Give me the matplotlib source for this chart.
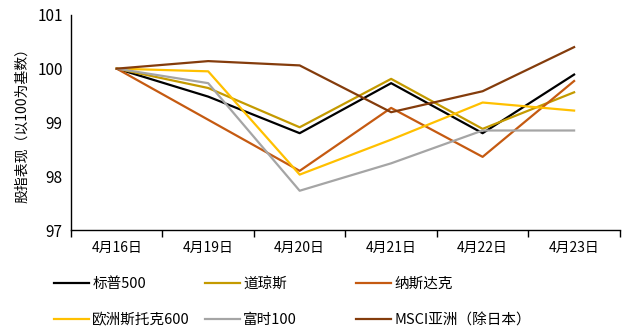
import matplotlib
matplotlib.use("Agg")
import matplotlib.pyplot as plt

plt.rcParams['font.family'] = ['Noto Sans CJK SC', 'DejaVu Sans']

# data
dates = ['4月16日', '4月19日', '4月20日', '4月21日', '4月22日', '4月23日']
sp500 = [100.0, 99.48, 98.80, 99.73, 98.80, 99.89]
dow = [100.0, 99.64, 98.91, 99.81, 98.88, 99.56]
nasdaq = [100.0, 99.05, 98.10, 99.27, 98.36, 99.77]
stoxx600 = [100.0, 99.95, 98.03, 98.68, 99.37, 99.22]
ftse100 = [100.0, 99.73, 97.73, 98.24, 98.85, 98.85]
msci_asia = [100.0, 100.14, 100.06, 99.19, 99.58, 100.40]

series = [
    ('标普500', sp500, '#000000'),
    ('道琼斯', dow, '#C49A00'),
    ('纳斯达克', nasdaq, '#C55A11'),
    ('欧洲斯托克600', stoxx600, '#FFC000'),
    ('富时100', ftse100, '#A5A5A5'),
    ('MSCI亚洲（除日本）', msci_asia, '#843C0C'),
]

fig = plt.figure(figsize=(6.28, 3.3), dpi=100)
ax = fig.add_axes([0.113, 0.303, 0.874, 0.652])

x = list(range(len(dates)))
lines = []
for name, vals, col in series:
    ln, = ax.plot(x, vals, color=col, lw=1.6, label=name)
    lines.append(ln)

ax.set_xlim(-0.5, len(dates) - 0.5)
ax.set_ylim(97, 101)
ax.set_yticks([97, 98, 99, 100, 101])
ax.tick_params(axis='y', length=0, labelsize=11, pad=6)

ax.set_xticks(x)
ax.set_xticklabels(dates)
ax.tick_params(axis='x', which='major', length=0, labelsize=10, pad=8)
ax.set_xticks([i - 0.5 for i in range(len(dates) + 1)], minor=True)
ax.tick_params(axis='x', which='minor', length=5, width=1)

for s in ['top', 'right']:
    ax.spines[s].set_visible(False)
ax.spines['left'].set_linewidth(1)
ax.spines['bottom'].set_linewidth(1)

ax.set_ylabel('股指表现（以100为基数）', fontsize=10, labelpad=6)

# legend: three columns, each its own legend so column positions are fixed
col_x = [56, 207, 358]
for k, xpix in enumerate(col_x):
    hs = [lines[k], lines[k + 3]]
    leg = fig.legend(handles=hs, labels=[h.get_label() for h in hs],
                     loc='lower left', bbox_to_anchor=(xpix / 628 - 0.012, -0.01),
                     frameon=False, fontsize=10.5, handlelength=2.4,
                     handletextpad=0.2, labelspacing=1.55, borderaxespad=0.0)

fig.savefig('out.png', dpi=100)
